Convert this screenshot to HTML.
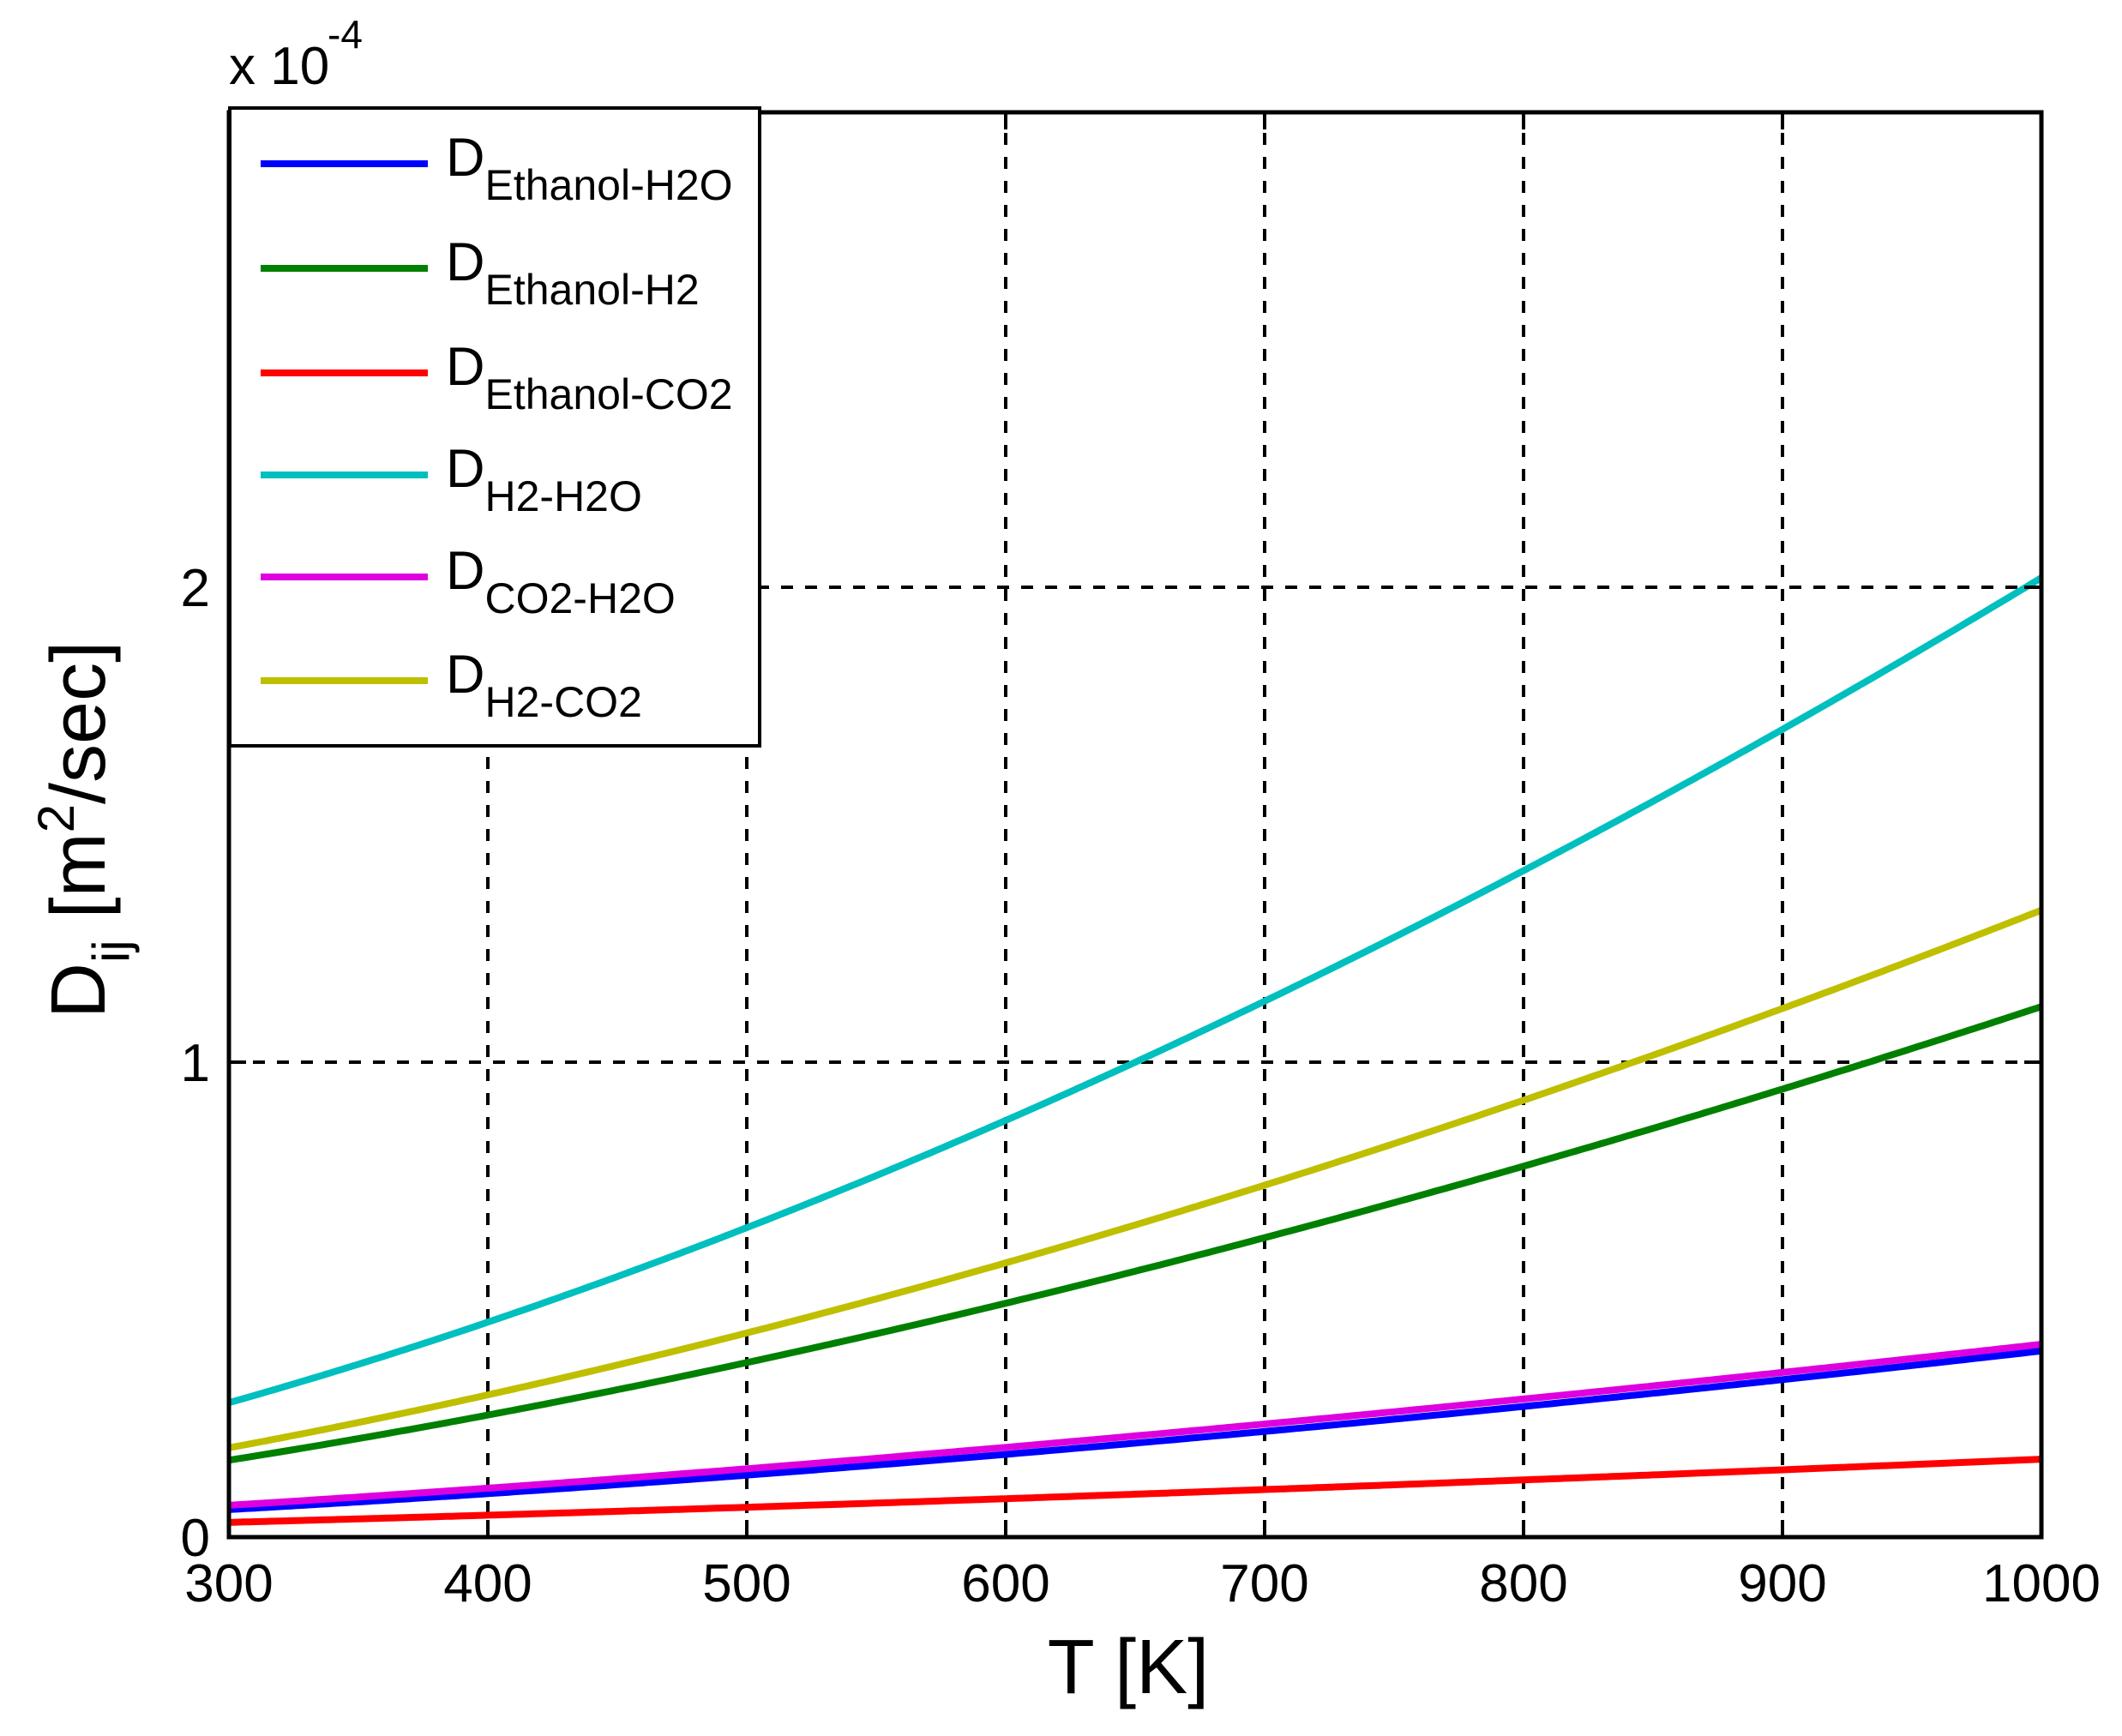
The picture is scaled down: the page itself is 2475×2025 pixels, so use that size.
<!DOCTYPE html>
<html><head><meta charset="utf-8"><style>
html,body{margin:0;padding:0;background:#fff}
svg{display:block}
text{font-family:"Liberation Sans",sans-serif;fill:#000}
</style></head><body>
<svg id="s" width="2475" height="2025" viewBox="0 0 2475 2025" xmlns="http://www.w3.org/2000/svg">
<rect width="2475" height="2025" fill="#fff"/>
<g id="grid" stroke="#000" stroke-width="4" stroke-dasharray="14,14"></g>
<g id="curves" fill="none" stroke-width="8"></g>
<rect x="267" y="131" width="2114" height="1662" fill="none" stroke="#000" stroke-width="5"/>
<g id="ticks" stroke="#000" stroke-width="4"></g>
<g id="labels" font-size="62"></g>
<text x="267" y="98" font-size="62">x 10</text>
<text x="382" y="56" font-size="46">-4</text>
<text x="1316" y="1975" font-size="90" text-anchor="middle">T [K]</text>
<text transform="translate(122,1188) rotate(-90)" font-size="90">D<tspan font-size="60" dy="28">ij</tspan><tspan dy="-28"> [m</tspan><tspan font-size="60" dy="-36">2</tspan><tspan dy="36">/sec]</tspan></text>
<rect x="268" y="126" width="618" height="744" fill="#fff" stroke="#000" stroke-width="4"/>
<g id="legend"></g>
</svg>
<script>
const L=267,R=2381,T=131,B=1793;
const X=t=>L+(t-300)*(R-L)/700, Y=v=>B-v*(B-T)/3;
const ns="http://www.w3.org/2000/svg";
function el(p,tag,a,txt){const e=document.createElementNS(ns,tag);for(const k in a)e.setAttribute(k,a[k]);if(txt!==undefined)e.textContent=txt;document.getElementById(p).appendChild(e);return e;}
for(let t=400;t<=900;t+=100)el('grid','line',{x1:X(t),y1:B,x2:X(t),y2:T});
for(let v=1;v<=2;v++)el('grid','line',{x1:L,y1:Y(v),x2:R,y2:Y(v)});
for(let t=300;t<=1000;t+=100){el('ticks','line',{x1:X(t),y1:B,x2:X(t),y2:B-20});el('ticks','line',{x1:X(t),y1:T,x2:X(t),y2:T+20});
 el('labels','text',{x:X(t),y:1868,'text-anchor':'middle'},String(t));}
for(let v=0;v<=3;v++){el('ticks','line',{x1:L,y1:Y(v),x2:L+20,y2:Y(v)});el('ticks','line',{x1:R,y1:Y(v),x2:R-20,y2:Y(v)});}
el('labels','text',{x:245,y:Y(0)+22,'text-anchor':'end'},'0');
el('labels','text',{x:245,y:Y(1)+22,'text-anchor':'end'},'1');
el('labels','text',{x:245,y:Y(2)+22,'text-anchor':'end'},'2');
const S=[
 ['#0000ff',0.058,0.392],
 ['#008000',0.162,1.117],
 ['#ff0000',0.031,0.164],
 ['#00bfbf',0.283,2.02],
 ['#df00df',0.067,0.406],
 ['#bfbf00',0.188,1.32]];
S.forEach(([c,a,b])=>{const n=Math.log(b/a)/Math.log(1000/300);let d='';
 for(let t=300;t<=1000;t+=2){const v=a*Math.pow(t/300,n);d+=(t==300?'M':'L')+X(t).toFixed(1)+','+Y(v).toFixed(1);}
 el('curves','path',{d:d,stroke:c});});
const names=[['Ethanol-H2O'],['Ethanol-H2'],['Ethanol-CO2'],['H2-H2O'],['CO2-H2O'],['H2-CO2']];
const ly=[191,313,435,554,673,794];
S.forEach(([c],i)=>{el('legend','line',{x1:304,y1:ly[i],x2:499,y2:ly[i],stroke:c,'stroke-width':8});
 const t=el('legend','text',{x:520,y:ly[i]+14,'font-size':63},'D');
 const sp=document.createElementNS(ns,'tspan');sp.setAttribute('font-size','50');sp.setAttribute('dy','28');sp.textContent=names[i][0];t.appendChild(sp);});
</script>
</body></html>
